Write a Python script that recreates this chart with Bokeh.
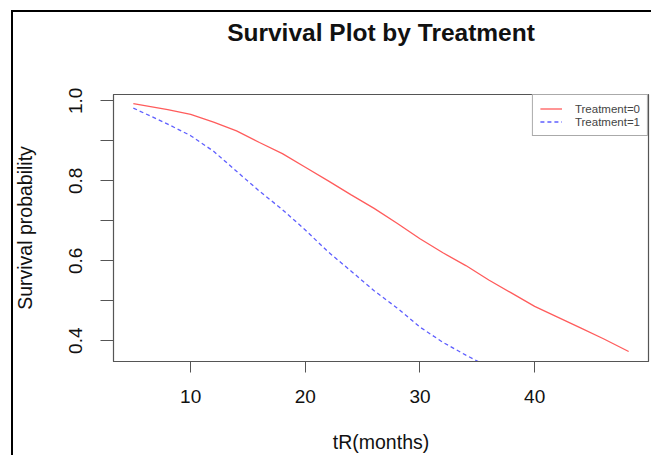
from bokeh.plotting import figure
from bokeh.models import (FixedTicker, Range1d, Legend, LegendItem, PrintfTickFormatter,
                          InlineStyleSheet, Title)
from bokeh.embed import file_html
from bokeh.resources import INLINE

# Treatment = 0 (red, solid)
months_t0 = [5, 8, 10, 12, 14, 16, 18, 20, 22, 24, 26, 28, 30, 32, 34, 36, 38, 40, 42, 44, 46, 48.2]
surv_t0 = [0.993, 0.978, 0.966, 0.947, 0.925, 0.896, 0.868, 0.834, 0.800, 0.765, 0.731,
           0.694, 0.655, 0.620, 0.588, 0.552, 0.519, 0.486, 0.459, 0.432, 0.405, 0.373]
# Treatment = 1 (blue, dashed)
months_t1 = [5, 8, 10, 12, 14, 16, 18, 20, 22, 24, 26, 28, 30, 32, 34, 36]
surv_t1 = [0.982, 0.942, 0.913, 0.874, 0.824, 0.774, 0.728, 0.677, 0.622, 0.574, 0.525,
           0.482, 0.434, 0.396, 0.364, 0.334]

x_ticks = [10, 20, 30, 40]
y_ticks = [0.4, 0.6, 0.8, 1.0]
y_minor = [0.5, 0.7, 0.9]

FONT = "Liberation Sans"
FRAME = "#555555"

p = figure(width=651, height=455, output_backend="svg", toolbar_location=None,
           x_range=Range1d(3.27, 49.93), y_range=Range1d(0.348, 1.016),
           min_border_left=113, min_border_right=3, min_border_top=94, min_border_bottom=94)
p.grid.visible = False
p.outline_line_color = FRAME
p.outline_line_width = 1.2
p.background_fill_color = "white"
p.border_fill_color = "white"

# title
p.title.text = "Survival Plot by Treatment"
p.title.align = "center"
p.title.text_font = FONT
p.title.text_font_size = "24.5px"
p.title.text_font_style = "bold"
p.title.text_color = "#111111"
p.title.standoff = 0
# blank spacer between the title and the plot area
p.add_layout(Title(text=" ", text_font_size="1px", standoff=46), "above")

r0 = p.line(months_t0, surv_t0, line_color="#ff5c5c", line_width=1.3)
r1 = p.line(months_t1, surv_t1, line_color="#5f5fff", line_width=1.3, line_dash="4 3")

# axes
p.xaxis.ticker = FixedTicker(ticks=x_ticks)
p.yaxis.ticker = FixedTicker(ticks=y_ticks, minor_ticks=y_minor)
p.yaxis.formatter = PrintfTickFormatter(format="%.1f")
for ax in (p.xaxis[0], p.yaxis[0]):
    ax.axis_line_color = FRAME
    ax.major_tick_line_color = FRAME
    ax.minor_tick_line_color = FRAME
    ax.major_tick_in = 0
    ax.minor_tick_in = 0
    ax.major_label_text_font = FONT
    ax.major_label_text_font_size = "19px"
    ax.major_label_text_color = "#111111"
    ax.axis_label_text_font = FONT
    ax.axis_label_text_font_size = "19.5px"
    ax.axis_label_text_font_style = "normal"
    ax.axis_label_text_color = "#111111"
p.xaxis.major_tick_out = 11
p.xaxis.minor_tick_out = 0
p.yaxis.major_tick_out = 13
p.yaxis.minor_tick_out = 13
p.yaxis.major_label_orientation = "vertical"
p.xaxis.major_label_standoff = 17
p.yaxis.major_label_standoff = 18
p.xaxis.axis_label = "tR(months)"
p.yaxis.axis_label = "Survival probability"
p.xaxis.axis_label_standoff = 25
p.yaxis.axis_label_standoff = 31

# legend
legend = Legend(items=[LegendItem(label="Treatment=0", renderers=[r0]),
                       LegendItem(label="Treatment=1", renderers=[r1])],
                location="top_right", margin=0, padding=7, spacing=0,
                label_height=13, glyph_height=13, glyph_width=22, label_standoff=13,
                label_text_font=FONT, label_text_font_size="11.5px",
                border_line_color=FRAME, border_line_width=1.2,
                background_fill_color="white", background_fill_alpha=1.0)
p.add_layout(legend)

# outer black frame of the picture (left and top edges)
p.stylesheets = [InlineStyleSheet(css=(
    ":host::after { content: ''; position: absolute; left: 11px; top: 10px; "
    "right: 0; bottom: 0; border-left: 2px solid black; border-top: 2px solid black; "
    "pointer-events: none; z-index: 100; }"))]

open("out.html", "w").write(file_html(p, INLINE))
